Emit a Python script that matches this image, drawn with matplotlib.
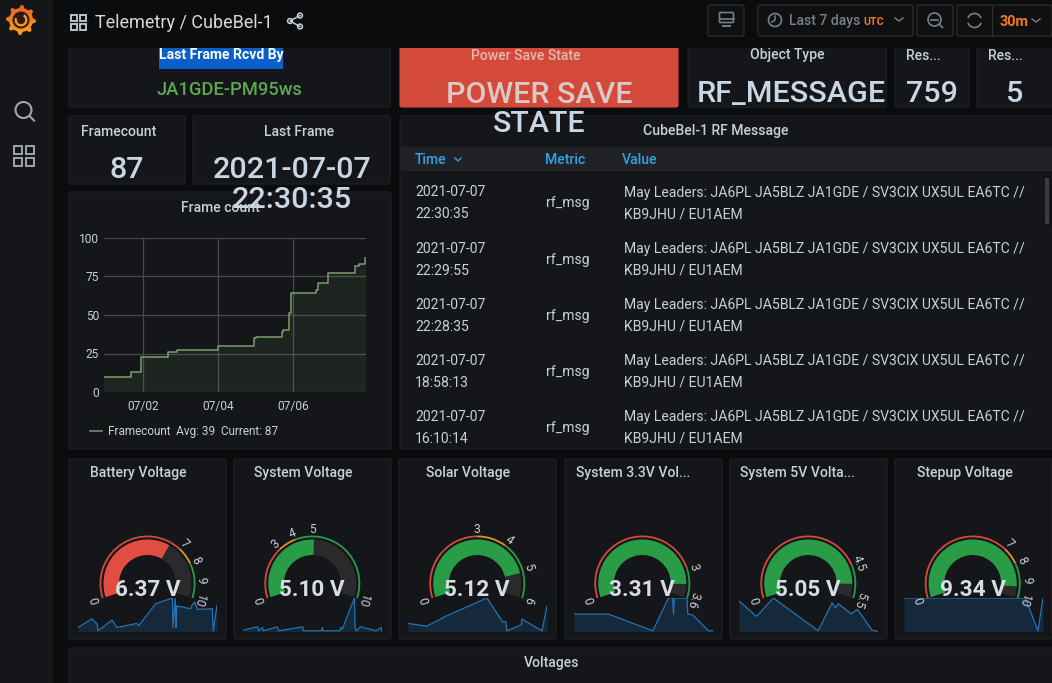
import numpy as np
import matplotlib
matplotlib.use("Agg")
import matplotlib.pyplot as plt
from matplotlib.patches import Rectangle, FancyBboxPatch, Wedge, Circle, Arc, Polygon

plt.rcParams['font.family'] = ['Roboto', 'DejaVu Sans']

# frame count step series (day of July, count)
frame_days = [0.94, 1.66, 1.94, 2.67, 2.91, 3.98, 4.95, 5.00, 5.69, 5.73, 5.88, 5.95, 6.60, 6.67, 6.93, 7.65, 7.76, 7.92, 7.94]
frame_vals = [10, 13, 23, 26, 27, 30, 35, 36, 39, 40, 51, 64, 66, 71, 77, 82, 83, 87, 87]
frame_ticks = [2, 4, 6]
frame_tick_labels = ['07/02', '07/04', '07/06']
frame_yticks = [0, 25, 50, 75, 100]

# table
table_times = [('2021-07-07', '22:30:35'), ('2021-07-07', '22:29:55'), ('2021-07-07', '22:28:35'),
               ('2021-07-07', '18:58:13'), ('2021-07-07', '16:10:14')]
table_metric = 'rf_msg'
table_msg = ['May Leaders: JA6PL JA5BLZ JA1GDE / SV3CIX UX5UL EA6TC //', 'KB9JHU / EU1AEM']

# gauges
gauge_titles = ['Battery Voltage', 'System Voltage', 'Solar Voltage', 'System 3.3V Vol...', 'System 5V Volta...', 'Stepup Voltage']
gauge_values = [6.37, 5.10, 5.12, 3.31, 5.05, 9.34]
gauge_max = [10, 10, 6, 3.6, 5.5, 10]
gauge_thresholds = [[7, 8], [3, 4], [3, 4], [3], [4.5], [7, 8]]
gauge_ticks = [[0, 7, 8, 9, 10], [0, 3, 4, 5, 10], [0, 3, 4, 5, 6], [0, 3, 3.6], [0, 4.5, 5.5], [0, 7, 8, 9, 10]]
gauge_colors = ['#e24d42', '#299c46', '#299c46', '#299c46', '#299c46', '#299c46']

# sparklines, percent of width / percent of height
spark_x = [
    [0, 10, 13.7, 14.4, 24.5, 28, 42.4, 43.6, 56, 68, 68.3, 70, 70.5, 71, 71.5, 81, 82, 84, 86, 96.6, 97.3, 100],
    [0, 10.7, 11.2, 14, 14.7, 24.6, 25.8, 43, 43.4, 56.6, 57, 57.8, 69.7, 70.4, 71.4, 80.2, 80.6, 81.6, 84.4, 95.7, 99.5, 100],
    [0, 13.7, 26.9, 56.8, 68, 70.4, 71.2, 81.5, 82, 96.4, 100],
    [0, 24.8, 56.7, 68, 70.9, 71.6, 72.3, 81.2, 81.9, 85.3, 96.8, 100],
    [0, 12.7, 24.7, 57, 67, 69.4, 71.3, 80.8, 85.2, 95.7, 100],
    [0, 87.3, 96.4, 100],
]
spark_y = [
    [12, 38, 22, 2, 34, 12, 24, 17, 83, 100, 12, 98, 12, 76, 76, 68, 78, 88, 66, 68, 2, 78],
    [4, 14, 2, 12, 2, 14, 2, 14, 2, 2, 12, 2, 2, 12, 7, 100, 12, 2, 14, 2, 12, 2],
    [24, 16, 45, 100, 29, 29, 2, 20, 37, 2, 76],
    [52, 52, 2, 100, 100, 52, 100, 100, 52, 50, 2, 2],
    [91, 45, 100, 2, 86, 70, 83, 53, 66, 4, 0],
    [100, 100, 2, 100],
]

W, H = 1052, 683
BG = '#0b0c0e'
PANEL = '#141619'
EDGE = '#202226'
TEXT = '#c7d0d9'
BIG = '#c9d6e3'
RED = '#d44a3a'
ORANGE = '#e5912d'
GREEN = '#299c46'
START, SWEEP = 198.0, 216.0

fig = plt.figure(figsize=(W / 100, H / 100), dpi=100, facecolor=BG)


def px_axes(x0, y0, x1, y1, zorder):
    a = fig.add_axes([x0 / W, 1 - y1 / H, (x1 - x0) / W, (y1 - y0) / H], zorder=zorder)
    return a


def full_axes(zorder):
    a = px_axes(0, 0, W, H, zorder)
    a.set_xlim(0, W)
    a.set_ylim(H, 0)
    a.axis('off')
    a.patch.set_alpha(0)
    return a


ax = full_axes(1)
top = full_axes(5)


def t(a, x, y, s, size, color=TEXT, ha='center', weight='normal', **kw):
    return a.text(x, y, s, fontsize=size * 0.72, color=color, ha=ha, va='center_baseline', fontweight=weight, **kw)


def panel(x0, y0, x1, y1, color=PANEL, edge=EDGE):
    ax.add_patch(FancyBboxPatch((x0 + 1, y0 + 1), x1 - x0 - 2, y1 - y0 - 2, boxstyle='round,pad=1,rounding_size=2',
                                fc=color, ec=edge, lw=0.8))


def squares(a, x, y, s, gap, color, lw=1.3):
    for dx in (0, s + gap):
        for dy in (0, s + gap):
            a.add_patch(Rectangle((x + dx, y + dy), s, s, fc='none', ec=color, lw=lw))


def button(x0, x1):
    top.add_patch(FancyBboxPatch((x0 + 1, 6), x1 - x0 - 2, 29, boxstyle='round,pad=1,rounding_size=2',
                                 fc='#0f1012', ec='#2c3235', lw=0.8))


# top row panels
panel(69, 30, 390, 107)
panel(400, 30, 678, 107, color=RED, edge=RED)
panel(688, 30, 886, 107)
panel(895, 30, 969, 107)
panel(977, 30, 1056, 107)
panel(69, 116, 185, 184)
panel(193, 116, 390, 184)
panel(69, 192, 391, 449)
panel(400, 116, 1056, 449)
panel(69, 648, 1056, 690)

ax.add_patch(Rectangle((159, 40), 124, 29, fc='#0a5fc9', ec='none'))
t(ax, 221, 54, 'Last Frame Rcvd By', 14, '#ffffff', weight='bold')
t(ax, 229.5, 88, 'JA1GDE-PM95ws', 18.4, '#5ba84f', weight='medium')
t(ax, 526, 54, 'Power Save State', 14, '#e3b8b0', weight='medium')
t(ax, 539.5, 92, 'POWER SAVE', 30.4, '#dcc8c6', weight='medium')
t(top, 539.5, 121, 'STATE', 30.4, BIG, weight='medium')
t(ax, 787, 54, 'Object Type', 14, weight='medium')
t(ax, 791, 91, 'RF_MESSAGE', 30.5, BIG, weight='medium')
t(ax, 923, 54, 'Res...', 14, weight='medium')
t(ax, 932, 91, '759', 30.5, BIG, weight='medium')
t(ax, 1005, 54, 'Res...', 14, weight='medium')
t(ax, 1014.5, 91, '5', 30.5, BIG, weight='medium')

t(ax, 118.5, 130, 'Framecount', 14, weight='medium')
t(ax, 127, 167, '87', 30.5, BIG, weight='medium')
t(ax, 299, 130, 'Last Frame', 14, weight='medium')
t(ax, 292, 167, '2021-07-07', 30.5, BIG, weight='medium')
t(top, 292, 197, '22:30:35', 30.5, BIG, weight='medium')
t(ax, 220, 206, 'Frame count', 14, weight='medium')

# frame count chart
cx = px_axes(104, 238, 366, 392, 2)
cx.patch.set_alpha(0)
cx.fill_between(frame_days, frame_vals, 0, step='post', color='#7eb26d', alpha=0.1, lw=0)
cx.step(frame_days, frame_vals, where='post', color='#7a9f6b', lw=1.1)
cx.set_xlim(0.95, 7.94)
cx.set_ylim(0, 100)
cx.set_xticks(frame_ticks)
cx.set_xticklabels(frame_tick_labels)
cx.set_yticks(frame_yticks)
cx.grid(True, color='#48494c', lw=0.9)
cx.set_axisbelow(True)
cx.tick_params(length=0, labelcolor=TEXT, labelsize=12 * 0.72, pad=3.5)
cx.tick_params(axis='x', pad=5.5)
for s in cx.spines.values():
    s.set_visible(False)
ax.plot([90, 102], [431, 431], color='#6f8f62', lw=1.2)
t(ax, 108, 430, 'Framecount  Avg: 39  Current: 87', 11.7, ha='left')

# rf message table
t(ax, 716, 130, 'CubeBel-1 RF Message', 14, weight='medium')
ax.add_patch(Rectangle((400, 147), 652, 24, fc='#202226', ec='none'))
t(ax, 415, 159, 'Time', 14, '#33a2e5', ha='left', weight='medium')
ax.plot([455, 458, 461], [158, 161, 158], color='#33a2e5', lw=1)
t(ax, 545, 159, 'Metric', 14, '#33a2e5', ha='left', weight='medium')
t(ax, 622, 159, 'Value', 14, '#33a2e5', ha='left', weight='medium')
for i, (day, clock) in enumerate(table_times):
    y = 191 + 56.1 * i
    t(ax, 415, y, day, 14, ha='left')
    t(ax, 415, y + 22, clock, 14, ha='left')
    t(ax, 546, y + 11, table_metric, 14, ha='left')
    t(ax, 624, y, table_msg[0], 14, ha='left')
    t(ax, 624, y + 22, table_msg[1], 14, ha='left')
ax.add_patch(FancyBboxPatch((1045, 178), 4, 46, boxstyle='round,pad=1,rounding_size=1.5', fc='#3a3b40', ec='#0b0c0e', lw=1))

# gauges
panel_x = [69, 234, 399, 565, 730, 895]
centres = [147.5, 312.3, 477.3, 642.3, 808.3, 972.7]
title_x = [138.5, 303.5, 468.5, 633, 797.5, 964.5]
spark_rect = [(78, 217), (243, 382), (408, 547), (574, 713), (739, 878), (904, 1043)]
GY = 583.5


def angle(v, vmax):
    return START - SWEEP * v / vmax


for i, title in enumerate(gauge_titles):
    x0 = panel_x[i]
    panel(x0, 459, x0 + 157, 639)
    t(ax, title_x[i], 472, title, 14, weight='medium')
    c = centres[i]
    vmax = gauge_max[i]
    # background and value arcs
    ax.add_patch(Wedge((c, GY), 44, -START, -(START - SWEEP), width=15.5, fc='#2a2a2c', ec='none'))
    ax.add_patch(Wedge((c, GY), 44, -START, -angle(gauge_values[i], vmax), width=15.5, fc=gauge_colors[i], ec='none'))
    # threshold ring
    edges = [0] + gauge_thresholds[i] + [vmax]
    cols = [RED, ORANGE, GREEN] if len(edges) == 4 else [RED, GREEN]
    for j in range(len(cols)):
        ax.add_patch(Wedge((c, GY), 48, -angle(edges[j], vmax), -angle(edges[j + 1], vmax), width=1.8, fc=cols[j], ec='none'))
    # scale labels
    for tick in gauge_ticks[i]:
        a = angle(tick, vmax)
        tx = c + 54 * np.cos(np.radians(a))
        ty = GY - 54 * np.sin(np.radians(a))
        top.text(tx, ty, f'{tick:g}', fontsize=12 * 0.72, color=TEXT, rotation=a - 90,
                 ha='center', va='center', rotation_mode='anchor')
    # sparkline
    sx0, sx1 = spark_rect[i]
    sa = px_axes(sx0, 598, sx1, 631.5, 2)
    sa.patch.set_alpha(0)
    sa.fill_between(spark_x[i], spark_y[i], 0, color='#1f78c1', alpha=0.2, lw=0)
    sa.plot(spark_x[i], spark_y[i], color='#2474b5', lw=0.9)
    sa.set_xlim(0, 100)
    sa.set_ylim(0, 100)
    sa.axis('off')
    t(top, c, 588, f'{gauge_values[i]:.2f} V', 22.5, '#d8dde3', weight='bold')

t(ax, 551.5, 662, 'Voltages', 14, weight='medium')

# header and sidebar sit above the panels
top.add_patch(Rectangle((53, 0), W - 53, 48, fc=BG, ec='none'))
top.add_patch(Rectangle((0, 0), 53, H, fc=PANEL, ec='none'))
squares(top, 71, 15, 6, 3, '#c7d0d9')
t(top, 95, 21, 'Telemetry / CubeBel-1', 18, '#d8d9da', ha='left')
for cc in [(290, 21), (300, 15.5), (300, 26.5)]:
    top.add_patch(Circle(cc, 2.4, fc='none', ec=TEXT, lw=1.1))
top.plot([300, 290, 300], [15.5, 21, 26.5], color=TEXT, lw=1.1)

# buttons
button(708, 744)
button(758, 913)
button(917, 953)
button(957, 1052)
top.plot([992, 992], [6, 36], color='#2c3235', lw=0.8)
top.add_patch(FancyBboxPatch((720, 13), 13, 9, boxstyle='round,pad=0.5,rounding_size=1', fc='none', ec='#7b8087', lw=1.2))
top.plot([719.5, 733.5], [19, 19], color='#7b8087', lw=1.2)
top.plot([723, 730], [26, 26], color='#7b8087', lw=1.4)
top.add_patch(Circle((775, 20), 6.5, fc='none', ec='#7b8087', lw=1.2))
top.plot([775, 775, 772], [16, 20, 22], color='#7b8087', lw=1.1)
t(top, 789, 20, 'Last 7 days', 14, '#7b8087', ha='left', weight='medium')
t(top, 863, 21, 'UTC', 10.5, '#f5771f', ha='left', weight='bold')
top.plot([895, 899, 903], [18, 21, 18], color='#7b8087', lw=1)
top.add_patch(Circle((934.5, 19.5), 6.5, fc='none', ec='#7b8087', lw=1.2))
top.plot([931, 938], [19.5, 19.5], color='#7b8087', lw=1.2)
top.plot([939, 942.5], [24, 27.5], color='#7b8087', lw=1.2)
top.add_patch(Arc((974.5, 20.5), 14, 14, theta1=200, theta2=340, ec='#7b8087', lw=1.2))
top.add_patch(Arc((974.5, 20.5), 14, 14, theta1=20, theta2=160, ec='#7b8087', lw=1.2))
t(top, 1000, 20, '30m', 14.5, '#f5771f', ha='left', weight='bold')
top.plot([1032, 1036, 1040], [19, 22, 19], color='#7b8087', lw=1)

# side icons
top.add_patch(Circle((23.5, 110), 8, fc='none', ec='#a2a6ab', lw=1.5))
top.plot([29.5, 34], [116, 120.5], color='#a2a6ab', lw=1.5)
squares(top, 14, 146, 8, 4, '#a2a6ab', lw=1.4)

# logo
ang = np.linspace(0, 2 * np.pi, 40, endpoint=False)
rad = np.where(np.arange(40) % 5 < 2, 15, 12)
gear = Polygon(np.c_[21 + rad * np.cos(ang), 20 + rad * np.sin(ang)], closed=True, fc='none', ec='none')
top.add_patch(gear)
grad = top.imshow(np.linspace(0, 1, 64).reshape(-1, 1), cmap=matplotlib.colors.LinearSegmentedColormap.from_list('g', ['#ef5b2a', '#f9a51a']),
                  extent=(5, 37, 36, 4), aspect='auto', zorder=6)
grad.set_clip_path(gear)
top.add_patch(Circle((21, 20), 8.5, fc='#2a1a12', ec='none', zorder=7))
top.add_patch(Wedge((21, 20), 6.5, 300, 200, width=2.4, fc='#f7941d', ec='none', zorder=8))
top.set_xlim(0, W)
top.set_ylim(H, 0)

fig.savefig('out.png', dpi=100, facecolor=BG)
